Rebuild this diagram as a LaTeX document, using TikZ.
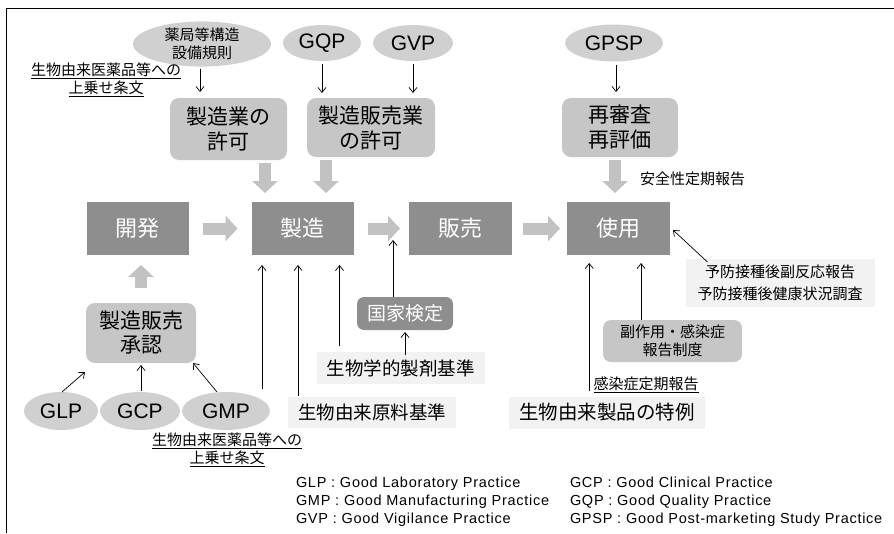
\documentclass[tikz,border=0pt]{standalone}
\usepackage{fontspec}
\setmainfont{Noto Sans CJK JP}
\newfontfamily\latfont{Liberation Sans}
\newfontfamily\legfont[LetterSpace=5]{Liberation Sans}
\usetikzlibrary{arrows.meta,shapes.geometric,calc}
\definecolor{lboxc}{HTML}{C6C6C6}
\definecolor{dboxc}{HTML}{8E8E8E}
\definecolor{ellc}{HTML}{D0D0D0}
\definecolor{fatc}{HTML}{C2C2C2}
\definecolor{faintc}{HTML}{F2F2F2}
\begin{document}
\begin{tikzpicture}[x=1pt,y=-1pt,
  every node/.style={inner sep=0pt, outer sep=0pt},
  lightbox/.style={fill=lboxc, rounded corners=9pt, align=center, font=\fontsize{21}{25}\selectfont},
  darkbox/.style={fill=dboxc, text=white, align=center, font=\fontsize{22}{26}\selectfont, minimum height=53},
  ellnode/.style={ellipse, fill=ellc, align=center},
  latlabel/.style={font=\latfont\fontsize{21}{24}\selectfont},
  fatarrow/.style={draw=fatc, line width=12pt, -{Triangle[width=25pt,length=12pt]}},
  arr/.style={draw=black, line width=0.7pt, -{Straight Barb[length=5pt,width=8pt]}},
  ulabel/.style={align=center, font=\fontsize{15}{18}\selectfont},
  faintlabel/.style={fill=faintc, inner xsep=10pt, inner ysep=7pt},
  legend/.style={anchor=base west, font=\legfont\fontsize{14.5}{17}\selectfont},
]
\useasboundingbox (0,0) rectangle (894,533);
\draw[line width=1pt] (894,8) -- (6,8) -- (6,533);

% top ellipses
\node[ellnode, minimum width=138, minimum height=38, font=\fontsize{15}{18}\selectfont] (yak) at (202,44) {薬局等構造\\設備規則};
\node[ellnode, latlabel, minimum width=78, minimum height=36] (gqp) at (322,43) {GQP};
\node[ellnode, latlabel, minimum width=80, minimum height=36] (gvp) at (413,43) {GVP};
\node[ellnode, latlabel, minimum width=98, minimum height=37] (gpsp) at (614,43) {GPSP};

\node[ulabel] (uwa1) at (106,80) {\underline{生物由来医薬品等への}\\\underline{上乗せ条文}};

% permission boxes
\node[lightbox, minimum width=117, minimum height=62] (kyoka1) at (228.5,129) {製造業の\\許可};
\node[lightbox, minimum width=128, minimum height=59] (kyoka2) at (371,127.5) {製造販売業\\の許可};
\node[lightbox, minimum width=116, minimum height=59] (saishin) at (620,127.5) {再審査\\再評価};

\draw[arr, shorten <=2pt, shorten >=6pt] ([xshift=-2pt]yak.south) -- ([xshift=-2pt]yak.south |- kyoka1.north);
\draw[arr, shorten <=3pt, shorten >=5pt] (gqp.south) -- (gqp.south |- kyoka2.north);
\draw[arr, shorten <=3pt, shorten >=5pt] (gvp.south) -- (gvp.south |- kyoka2.north);
\draw[arr, shorten <=3pt, shorten >=6pt] ([xshift=2pt]gpsp.south) -- ([xshift=2pt]gpsp.south |- saishin.north);

% main flow
\node[darkbox, minimum width=102] (kaihatsu) at (137.5,228.5) {開発};
\node[darkbox, minimum width=102] (seizo) at (302.5,228.5) {製造};
\node[darkbox, minimum width=103] (hanbai) at (460.5,228.5) {販売};
\node[darkbox, minimum width=103] (shiyo) at (618.5,228.5) {使用};

\draw[fatarrow, shorten <=14pt, shorten >=14pt] (kaihatsu.east) -- (seizo.west);
\draw[fatarrow, shorten <=14pt, shorten >=9pt] (seizo.east) -- (hanbai.west);
\draw[fatarrow, shorten <=11pt, shorten >=7pt] (hanbai.east) -- (shiyo.west);

\draw[fatarrow, shorten <=3pt, shorten >=9pt] ([xshift=-37.5pt]seizo.north |- kyoka1.south) -- ([xshift=-37.5pt]seizo.north);
\draw[fatarrow, shorten <=3pt, shorten >=9pt] ([xshift=23.5pt]seizo.north |- kyoka2.south) -- ([xshift=23.5pt]seizo.north);
\draw[fatarrow, shorten <=3pt, shorten >=9pt] ([xshift=-3.5pt]shiyo.north |- saishin.south) -- ([xshift=-3.5pt]shiyo.north);

\node[anchor=west, font=\fontsize{15}{18}\selectfont] (anzen) at (640,179) {安全性定期報告};

% approval
\node[lightbox, minimum width=110, minimum height=60, font=\fontsize{21}{24}\selectfont] (shonin) at (141,333) {製造販売\\承認};
\draw[fatarrow, shorten <=15pt, shorten >=10pt] (shonin.north) -- (shonin.north |- kaihatsu.south);

\node[ellnode, latlabel, minimum width=74, minimum height=38] (glp) at (61,411) {GLP};
\node[ellnode, latlabel, minimum width=80, minimum height=38] (gcp) at (140,411) {GCP};
\node[ellnode, latlabel, minimum width=88, minimum height=38] (gmp) at (226,411) {GMP};

\draw[arr] ([xshift=1pt]glp.north) -- ([xshift=-1pt,yshift=-9pt]shonin.south west);
\draw[arr, shorten <=1pt, shorten >=2pt] ([xshift=1pt]gcp.north) -- ([xshift=1pt]gcp.north |- shonin.south);
\draw[arr] ([xshift=-9pt]gmp.north) -- ([xshift=-3pt]shonin.south east);

\node[ulabel] (uwa2) at (227,450) {\underline{生物由来医薬品等への}\\\underline{上乗せ条文}};

% standards
\node[faintlabel, font=\fontsize{18.5}{22}\selectfont] (seibutsu) at (400.5,368) {生物学的製剤基準};
\node[faintlabel, font=\fontsize{18.5}{22}\selectfont] (genryo) at (372,412.5) {生物由来原料基準};
\node[faintlabel, font=\fontsize{19.5}{22}\selectfont] (tokurei) at (607,412.5) {生物由来製品の特例};

\node[fill=dboxc, text=white, rounded corners=7pt, minimum width=96, minimum height=33, font=\fontsize{19}{22}\selectfont] (kokka) at (405,313.5) {国家検定};
\coordinate (kokkatip) at (393,240);
\draw[arr] ([xshift=-12pt]kokka.north) -- (kokkatip);
\draw[arr, shorten <=-3pt, shorten >=2pt] (kokka.south |- seibutsu.north) -- (kokka.south);

\draw[arr, shorten >=10pt] ([xshift=36pt,yshift=3pt]gmp.north) -- ([xshift=-40.5pt]seizo.south);
\draw[arr, shorten <=1pt, shorten >=10pt] ([xshift=10pt]genryo.north west) -- ([xshift=10pt]genryo.north west |- seizo.south);
\draw[arr, shorten <=6pt, shorten >=10pt] ([xshift=23pt]seibutsu.north west) -- ([xshift=23pt]seibutsu.north west |- seizo.south);

% use
\node[ulabel] (kansen) at (646,385) {\underline{感染症定期報告}};
\draw[arr, shorten <=6pt, shorten >=8pt] ([xshift=80pt]tokurei.north west) -- ([xshift=80pt]tokurei.north west |- shiyo.south);

\node[lightbox, minimum width=139, minimum height=42, font=\fontsize{15}{17.5}\selectfont, rounded corners=8pt] (fuku) at (672.5,341) {副作用・感染症\\報告制度};
\draw[arr, shorten >=8pt] ([xshift=-31.5pt]fuku.north) -- ([xshift=-31.5pt]fuku.north |- shiyo.south);

\node[fill=faintc, inner xsep=12pt, inner ysep=6pt, align=center, font=\fontsize{15}{22}\selectfont] (yobo) at (780,283) {予防接種後副反応報告\\予防接種後健康状況調査};
\draw[arr] ([xshift=22pt,yshift=-3pt]yobo.north west) -- ([xshift=3pt,yshift=-1.5pt]shiyo.east);

% legend
\node[legend] (l1) at (296,487) {GLP : Good Laboratory Practice};
\node[legend] (l2) at (296,505) {GMP : Good Manufacturing Practice};
\node[legend] (l3) at (296,523) {GVP : Good Vigilance Practice};
\node[legend] (r1) at (570,487) {GCP : Good Clinical Practice};
\node[legend] (r2) at (570,505) {GQP : Good Quality Practice};
\node[legend] (r3) at (570,523) {GPSP : Good Post-marketing Study Practice};
\end{tikzpicture}
\end{document}
